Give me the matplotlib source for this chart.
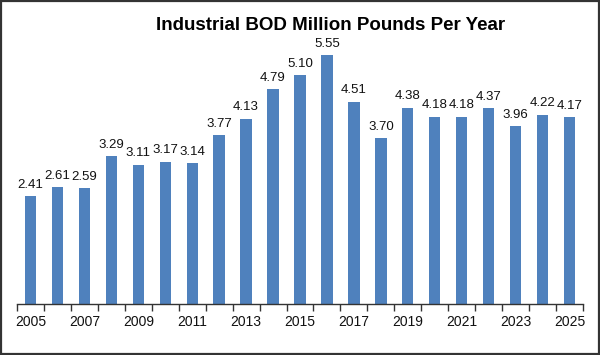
import matplotlib
matplotlib.use("Agg")
import matplotlib.pyplot as plt
from matplotlib.patches import Rectangle

years = list(range(2005, 2026))
values = [2.41, 2.61, 2.59, 3.29, 3.11, 3.17, 3.14, 3.77, 4.13, 4.79, 5.10,
          5.55, 4.51, 3.70, 4.38, 4.18, 4.18, 4.37, 3.96, 4.22, 4.17]
tick_labels = [str(y) if (y - 2005) % 2 == 0 else "" for y in years]
title = "Industrial BOD Million Pounds Per Year"

plt.rcParams['font.family'] = ['Liberation Sans', 'DejaVu Sans']

W, H = 600, 355
fig = plt.figure(figsize=(W / 100, H / 100), dpi=100)
ax = fig.add_axes([17 / W, (H - 304) / H, (583 - 17) / W, (304 - 35) / H])

x = list(range(len(years)))
ax.bar(x, values, width=0.42, color='#4F81BD', zorder=2)
for xi, v in zip(x, values):
    ax.text(xi, v + 0.12, f"{v:.2f}", ha='center', va='bottom', fontsize=9.5, color='#111111')

ax.set_xlim(-0.5, len(years) - 0.5)
ax.set_ylim(0, 6)
ax.set_yticks([])
ax.set_xticks(x)
ax.set_xticklabels(tick_labels, fontsize=10, color='#111111')
ax.set_xticks([i - 0.5 for i in range(len(years) + 1)], minor=True)
ax.tick_params(axis='x', which='major', length=0, pad=8)
ax.tick_params(axis='x', which='minor', length=5, width=1, color='#333333', direction='out')
for s in ['top', 'right', 'left']:
    ax.spines[s].set_visible(False)
ax.spines['bottom'].set_color('#333333')
ax.spines['bottom'].set_linewidth(1)

fig.text(331 / W, 1 - 25 / H, title, ha='center', va='center', fontsize=13.5,
         fontweight='bold', color='black')

fig.patches.append(Rectangle((0.0015, 0.0025), 0.997, 0.995, transform=fig.transFigure,
                             fill=False, edgecolor='#333333', linewidth=1.6))

fig.savefig("out.png", dpi=100)
